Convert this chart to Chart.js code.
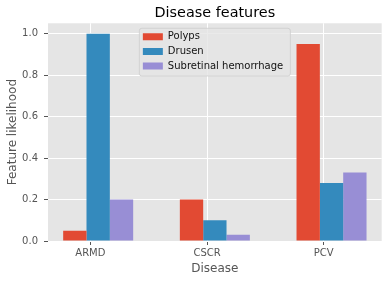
<!DOCTYPE html>
<html>
<head>
<meta charset="utf-8">
<script src="https://cdn.jsdelivr.net/npm/chart.js@4"></script>
<style>
  html, body { margin: 0; padding: 0; background: #fff; }
  #wrap { width: 392px; height: 282px; }
</style>
</head>
<body>
<div id="wrap"><canvas id="chart"></canvas></div>
<script>
const diseases = ['ARMD', 'CSCR', 'PCV'];
const polyps = [0.05, 0.2, 0.95];
const drusen = [1.0, 0.1, 0.28];
const hemorrhage = [0.2, 0.03, 0.33];
const yTicks = [0.0, 0.2, 0.4, 0.6, 0.8, 1.0];

// the tick sits a bit left of the group centre, like in the original plot
const tickShift = 0.2 / 3;

Chart.defaults.font.family = "'DejaVu Sans', sans-serif";

const toPoints = vals => vals.map((v, i) => ({ x: i, y: v }));

// grey panel behind the plot
const plotBackground = {
  id: 'plotBackground',
  beforeDraw(chart) {
    const { ctx, chartArea: a } = chart;
    ctx.save();
    ctx.fillStyle = '#E5E5E5';
    ctx.fillRect(a.left, a.top, a.right - a.left, a.bottom - a.top);
    ctx.restore();
  }
};

// put the legend in a frame at the upper centre of the plot
const legendFrame = {
  id: 'legendFrame',
  afterLayout(chart) {
    const legend = chart.legend;
    if (!legend || legend._framed) return;
    const baseDraw = legend.draw.bind(legend);
    legend.draw = function () {
      const a = chart.chartArea;
      const ctx = chart.ctx;
      const w = 151, h = 47.7;
      const fx = (a.left + a.right) / 2 - w / 2;
      const fy = a.top + 5;
      ctx.save();
      ctx.beginPath();
      if (ctx.roundRect) ctx.roundRect(fx, fy, w, h, 2.5); else ctx.rect(fx, fy, w, h);
      ctx.fillStyle = 'rgba(229,229,229,0.8)';
      ctx.fill();
      ctx.lineWidth = 1;
      ctx.strokeStyle = 'rgba(204,204,204,0.8)';
      ctx.stroke();
      ctx.restore();
      const pad = this.options.labels.padding;
      this.left = fx + 3.5 - pad;
      this.top = fy - 1.1;
      this.right = this.left + w;
      this.bottom = this.top + h + 20;
      this.width = this.right - this.left;
      this.height = this.bottom - this.top;
      baseDraw();
    };
    legend._framed = true;
  }
};

const ctx = document.getElementById('chart');
new Chart(ctx, {
  type: 'bar',
  data: {
    datasets: [
      { label: 'Polyps', data: toPoints(polyps), backgroundColor: '#E24A33' },
      { label: 'Drusen', data: toPoints(drusen), backgroundColor: '#348ABD' },
      { label: 'Subretinal hemorrhage', data: toPoints(hemorrhage), backgroundColor: '#988ED5' }
    ]
  },
  options: {
    responsive: true,
    maintainAspectRatio: false,
    animation: false,
    layout: { padding: { top: 0, right: 10.3, bottom: 0, left: 0 } },
    datasets: {
      bar: { categoryPercentage: 0.6, barPercentage: 1.0, borderWidth: 0 }
    },
    plugins: {
      title: {
        display: true,
        fullSize: false,
        text: 'Disease features',
        color: '#000',
        font: { size: 14.4, weight: 'normal' },
        padding: { top: 4.7, bottom: 1.3 }
      },
      legend: {
        position: 'chartArea',
        align: 'start',
        labels: {
          boxWidth: 20,
          boxHeight: 7,
          padding: 4.6,
          color: '#111',
          font: { size: 10 }
        }
      },
      tooltip: { enabled: false }
    },
    scales: {
      x: {
        type: 'linear',
        min: -0.43,
        max: 2.43,
        offset: false,
        grid: { offset: false, color: '#fff', lineWidth: 1, tickColor: '#555', tickLength: 4 },
        border: { display: false },
        ticks: {
          autoSkip: false,
          maxRotation: 0,
          padding: 2,
          color: '#555',
          font: { size: 10 },
          callback: (v, i) => diseases[i]
        },
        title: {
          display: true,
          text: 'Disease',
          color: '#555',
          font: { size: 12 },
          padding: { top: 0, bottom: 6 }
        },
        afterBuildTicks: scale => {
          scale.ticks = diseases.map((d, i) => ({ value: i - tickShift }));
        },
        afterFit: scale => { scale.height = 41; }
      },
      y: {
        min: 0,
        max: 1.05,
        grid: { color: '#fff', lineWidth: 1, tickColor: '#555', tickLength: 4 },
        border: { display: false },
        ticks: {
          padding: 6,
          color: '#555',
          font: { size: 10 },
          callback: v => v.toFixed(1)
        },
        title: {
          display: true,
          text: 'Feature likelihood',
          color: '#555',
          font: { size: 12 },
          padding: { top: 5.6, bottom: 0 }
        },
        afterBuildTicks: scale => {
          scale.ticks = yTicks.map(v => ({ value: v }));
        },
        afterFit: scale => { scale.width = 48; }
      }
    }
  },
  plugins: [plotBackground, legendFrame]
});
</script>
</body>
</html>
